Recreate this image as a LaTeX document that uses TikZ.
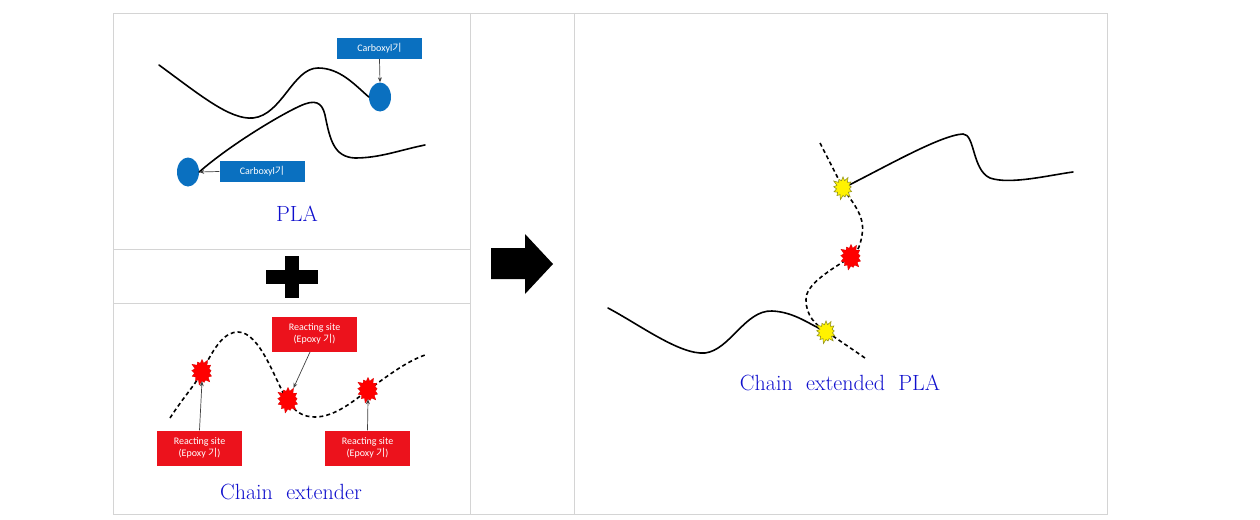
\documentclass[tikz,border=0pt]{standalone}
\usepackage{fontspec}
\newfontfamily\lblfont{Carlito}
\newfontfamily\krfont{Noto Sans CJK KR}
\usetikzlibrary{shapes.symbols,shapes.geometric,arrows.meta}
\definecolor{txtblue}{RGB}{15,15,205}
\definecolor{boxblue}{RGB}{10,112,192}
\definecolor{boxred}{RGB}{236,18,28}
\definecolor{gridgray}{RGB}{212,212,212}
\definecolor{starline}{RGB}{150,150,30}
\tikzset{
  grid/.style={draw=gridgray, line width=0.8pt},
  chain/.style={line width=1.6pt, line cap=round},
  dchain/.style={line width=1.6pt, dash pattern=on 4pt off 3pt},
  bluebox/.style={fill=boxblue, text=white, font=\lblfont\fontsize{10}{11}\selectfont, minimum width=85pt, minimum height=21pt, inner sep=0pt},
  redbox/.style={fill=boxred, text=white, font=\lblfont\fontsize{10}{12}\selectfont, align=center, minimum width=85pt, minimum height=35pt, inner sep=0pt},
  ptr/.style={draw=black!75, line width=0.7pt, -{Stealth[length=5pt,width=4pt]}},
  burst/.style={starburst, starburst points=13, starburst point height=5pt, inner sep=0pt, minimum width=25pt, minimum height=28pt},
  redburst/.style={burst, fill=red, draw=red!85!black, line width=0.3pt},
  yelburst/.style={burst, fill=yellow, draw=starline, line width=0.6pt, minimum width=23pt, minimum height=25pt},
  caption/.style={text=txtblue, font=\fontsize{22}{26}\selectfont},
  blob/.style={ellipse, fill=boxblue, minimum width=22pt, minimum height=29pt, inner sep=0pt}
}
\begin{document}
\begin{tikzpicture}[x=1pt,y=-1pt]
\useasboundingbox (0,0) rectangle (1260,519);
% table grid
\draw[grid] (113,13) rectangle (1107,514);
\draw[grid] (470,13) -- (470,514);
\draw[grid] (574,13) -- (574,514);
\draw[grid] (113,249) -- (470,249);
\draw[grid] (113,303) -- (470,303);

% ---- PLA panel ----
\node[blob] (e1) at (380,97) {};
\node[blob] (e2) at (188,172) {};
\draw[chain] (159,65) .. controls (200,95) and (230,120) .. (253,118)
  .. controls (282,115) and (293,68) .. (318,68)
  .. controls (340,68) and (355,85) .. (e1.west);
\draw[chain] (e2.east) .. controls (230,145) and (280,115) .. (300,106)
  .. controls (315,99) and (322,102) .. (325,115)
  .. controls (330,140) and (334,157) .. (355,158)
  .. controls (380,158) and (400,150) .. (425,145);
\node[bluebox] (b1) at (379.5,48.5) {Carboxyl{\krfont 기}};
\node[bluebox] (b2) at (262,171.5) {Carboxyl{\krfont 기}};
\draw[ptr] (b1.south) -- (e1.north);
\draw[ptr] (b2.west) -- (e2.east);
\node[caption] (pla) at (297,214) {PLA};

% ---- plus ----
\fill (266,270) rectangle (318,284);
\fill (285,256) rectangle (299,298);

% ---- Chain extender panel ----
\draw[dchain] (170,418) .. controls (185,395) and (195,385) .. (202,372)
  .. controls (215,345) and (225,332) .. (238,332)
  .. controls (260,332) and (275,380) .. (287,400)
  .. controls (295,412) and (303,417) .. (315,417)
  .. controls (335,417) and (355,400) .. (368,390)
  .. controls (385,378) and (405,362) .. (425,355);
\node[redburst] (s1) at (202,372) {};
\node[redburst] (s2) at (288,400) {};
\node[redburst] (s3) at (368,390) {};
\node[redbox] (r1) at (314.5,334) {Reacting site\\(Epoxy {\krfont 기})};
\node[redbox] (r2) at (199.5,448) {Reacting site\\(Epoxy {\krfont 기})};
\node[redbox] (r3) at (367.5,448) {Reacting site\\(Epoxy {\krfont 기})};
\draw[ptr] (310,352) -- (s2);
\draw[ptr] (r2.north) -- (s1.south);
\draw[ptr] (r3.north) -- (s3.south);
\node[caption] (ce) at (291,492) {Chain\ \ extender};

% ---- big arrow ----
\fill (491,248) -- (525,248) -- (525,234) -- (553,264) -- (525,294) -- (525,279) -- (491,279) -- cycle;

% ---- right panel ----
\coordinate (dtop) at (820,143);
\coordinate (dbot) at (865,358);
\coordinate (ltop) at (608,308);
\coordinate (rend) at (1073,172);
\draw[dchain] (dtop) -- (843,188);
\draw[dchain] (843,188) .. controls (850,200) and (866,215) .. (862,235)
  .. controls (860,248) and (856,254) .. (851,257)
  .. controls (830,270) and (805,285) .. (806,300)
  .. controls (806,315) and (815,325) .. (827,332);
\draw[dchain] (827,332) -- (dbot);
\draw[chain] (843,188) .. controls (880,170) and (940,135) .. (963,134)
  .. controls (975,134) and (972,170) .. (990,178)
  .. controls (1010,185) and (1050,175) .. (rend);
\draw[chain] (ltop) .. controls (640,325) and (680,355) .. (705,353)
  .. controls (730,350) and (745,310) .. (772,311)
  .. controls (795,312) and (810,325) .. (827,332);
\node[yelburst] (y1) at (843,188) {};
\node[redburst] (y2) at (851,257) {};
\node[yelburst] (y3) at (826,332) {};
\node[caption] (cep) at (840,383) {Chain\ \ extended\ \ PLA};
\end{tikzpicture}
\end{document}
